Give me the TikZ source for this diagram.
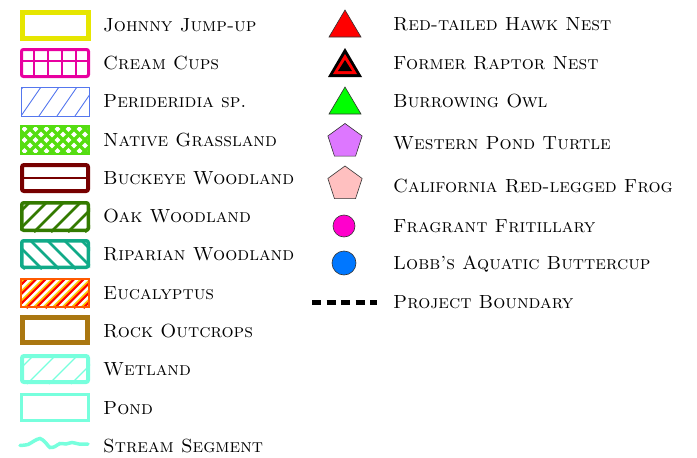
\documentclass[tikz,border=0pt]{standalone}
\usetikzlibrary{shapes.geometric}
\definecolor{cjohnny}{HTML}{E6E600}
\definecolor{ccream}{HTML}{E800A0}
\definecolor{cperi}{HTML}{5577EE}
\definecolor{cgrass}{HTML}{55DD11}
\definecolor{cbuck}{HTML}{770000}
\definecolor{coak}{HTML}{337A00}
\definecolor{cripa}{HTML}{11AA88}
\definecolor{ceuc}{HTML}{FF5A00}
\definecolor{ceucfill}{HTML}{FFC400}
\definecolor{crock}{HTML}{AA7711}
\definecolor{cwet}{HTML}{77FFDD}
\definecolor{cowl}{HTML}{00FF00}
\definecolor{cturtle}{HTML}{DD77FF}
\definecolor{cfrog}{HTML}{FFC0C0}
\definecolor{cfrit}{HTML}{FF00CC}
\definecolor{clobb}{HTML}{0077FF}
\tikzset{
  lab/.style={anchor=west, inner sep=0pt, font=\fontsize{19}{22}\selectfont\scshape},
  tri/.style={draw=black!80, line width=0.6pt, line join=miter},
  pent/.style={regular polygon, regular polygon sides=5, minimum size=36pt, inner sep=0pt, draw=black!80, line width=0.6pt},
  dot/.style={circle, inner sep=0pt, draw=black!80, line width=0.6pt},
}
\begin{document}
\begin{tikzpicture}[x=1pt,y=-1pt]
\useasboundingbox (0,0) rectangle (697,458);
% Johnny Jump-up
\draw[cjohnny, line width=5pt] (22.5,12.5) rectangle (88.5,38.5);
% Cream cups
\begin{scope}
\clip (20,48) rectangle (90,78);
\foreach \x in {34,48,62,76} \draw[ccream, line width=1.5pt] (\x,48) -- (\x,78);
\draw[ccream, line width=2pt] (20,61) -- (90,61);
\end{scope}
\draw[ccream, line width=3pt, rounded corners=2pt] (21.5,49.5) rectangle (88.5,76.5);
% Periderida
\begin{scope}
\clip (21,87) rectangle (89,116);
\foreach \x in {3,21,39,57,75} \draw[cperi, line width=0.9pt] (\x,116) -- (\x+20,87);
\end{scope}
\draw[cperi, line width=1pt] (21,87) rectangle (89,116);
% Native grassland
\begin{scope}
\clip (21,126) rectangle (89,154);
\foreach \x in {-28,-17,...,100} {
  \draw[cgrass, line width=3.4pt] (\x,154) -- (\x+28,126);
  \draw[cgrass, line width=3.4pt] (\x,126) -- (\x+28,154);
}
\end{scope}
\draw[cgrass, line width=1.5pt] (21,126) rectangle (89,154);
% Buckeye woodland
\draw[cbuck, line width=2.5pt] (20,178) -- (90,178);
\draw[cbuck, line width=4pt, rounded corners=2pt] (22,165) rectangle (88,191);
% Oak woodland
\begin{scope}
\clip (20,201) rectangle (90,232);
\foreach \x in {0,17,34,51,68,85} \draw[coak, line width=2.5pt] (\x,232) -- (\x+31,201);
\end{scope}
\draw[coak, line width=3.5pt, rounded corners=2pt] (21.75,202.75) rectangle (88.25,230.25);
% Riparian woodland
\begin{scope}
\clip (20,239) rectangle (90,269);
\foreach \x in {-5,12,29,46,63,80} \draw[cripa, line width=2.5pt] (\x,239) -- (\x+30,269);
\end{scope}
\draw[cripa, line width=3.5pt, rounded corners=2pt] (21.75,240.75) rectangle (88.25,267.25);
% Eucalyptus
\fill[ceucfill] (21,278) rectangle (89,308);
\begin{scope}
\clip (21,278) rectangle (89,308);
\foreach \x in {-40,-30.5,...,100} {
  \draw[red, line width=2.2pt] (\x,308) -- (\x+30,278);
  \draw[white, line width=2.4pt] (\x+3.3,308) -- (\x+33.3,278);
}
\end{scope}
\draw[ceuc, line width=2pt] (21,279) rectangle (89,307);
% Rock outcrops
\draw[crock, line width=5pt] (22.5,317.5) rectangle (87.5,342.5);
% Wetland
\begin{scope}
\clip (20,354) rectangle (90,384);
\foreach \x in {5,27,49,71} \draw[cwet, line width=1.2pt] (\x,384) -- (\x+30,354);
\end{scope}
\draw[cwet, line width=4pt, rounded corners=2pt] (22,356) rectangle (88,382);
% Pond
\draw[cwet, line width=3pt] (21.5,394.5) rectangle (88.5,420.5);
% Stream segment
\draw[cwet, line width=3.5pt, line cap=round] plot[smooth] coordinates {(20,445.5) (28,444.5) (34,441) (40,438.5) (45,442) (50,447.5) (55,446.5) (60,443.5) (66,444) (72,442.5) (79,444) (88,444)};

% Left labels
\node[lab] (l1) at (103,25) {Johnny Jump-up};
\node[lab] (l2) at (103,63) {Cream Cups};
\node[lab] (l3) at (103,101) {Perideridia sp.};
\node[lab] (l4) at (103,140) {Native Grassland};
\node[lab] (l5) at (103,178) {Buckeye Woodland};
\node[lab] (l6) at (103,216) {Oak Woodland};
\node[lab] (l7) at (103,254) {Riparian Woodland};
\node[lab] (l8) at (103,293) {Eucalyptus};
\node[lab] (l9) at (103,331) {Rock Outcrops};
\node[lab] (l10) at (103,369) {Wetland};
\node[lab] (l11) at (103,408) {Pond};
\node[lab] (l12) at (103,446) {Stream Segment};

% Right symbols
\draw[tri, fill=red] (329,37) -- (361,37) -- (345,10) -- cycle;
\fill[black] (328,77) -- (362,77) -- (345,48) -- cycle;
\fill[red] (333,74) -- (357,74) -- (345,54) -- cycle;
\fill[black] (338,71) -- (352,71) -- (345,60) -- cycle;
\draw[tri, fill=cowl] (329,114) -- (361,114) -- (345,87) -- cycle;
\node[pent, fill=cturtle] (p1) at (345,141.5) {};
\node[pent, fill=cfrog] (p2) at (345,184) {};
\node[dot, fill=cfrit, minimum size=22pt] (c1) at (344,226) {};
\node[dot, fill=clobb, minimum size=24pt] (c2) at (344,263) {};
\coordinate (b1) at (312,302);
\coordinate (b2) at (377,302);
\draw[black, line width=5pt, dash pattern=on 9pt off 5.5pt] (b1) -- (b2);

% Right labels
\node[lab] (r1) at (393,24) {Red-tailed Hawk Nest};
\node[lab] (r2) at (393,63) {Former Raptor Nest};
\node[lab] (r3) at (393,101) {Burrowing Owl};
\node[lab] (r4) at (393,143) {Western Pond Turtle};
\node[lab] (r5) at (393,186) {California Red-legged Frog};
\node[lab] (r6) at (393,226) {Fragrant Fritillary};
\node[lab] (r7) at (393,264) {Lobb's Aquatic Buttercup};
\node[lab] (r8) at (393,302) {Project Boundary};
\end{tikzpicture}
\end{document}
